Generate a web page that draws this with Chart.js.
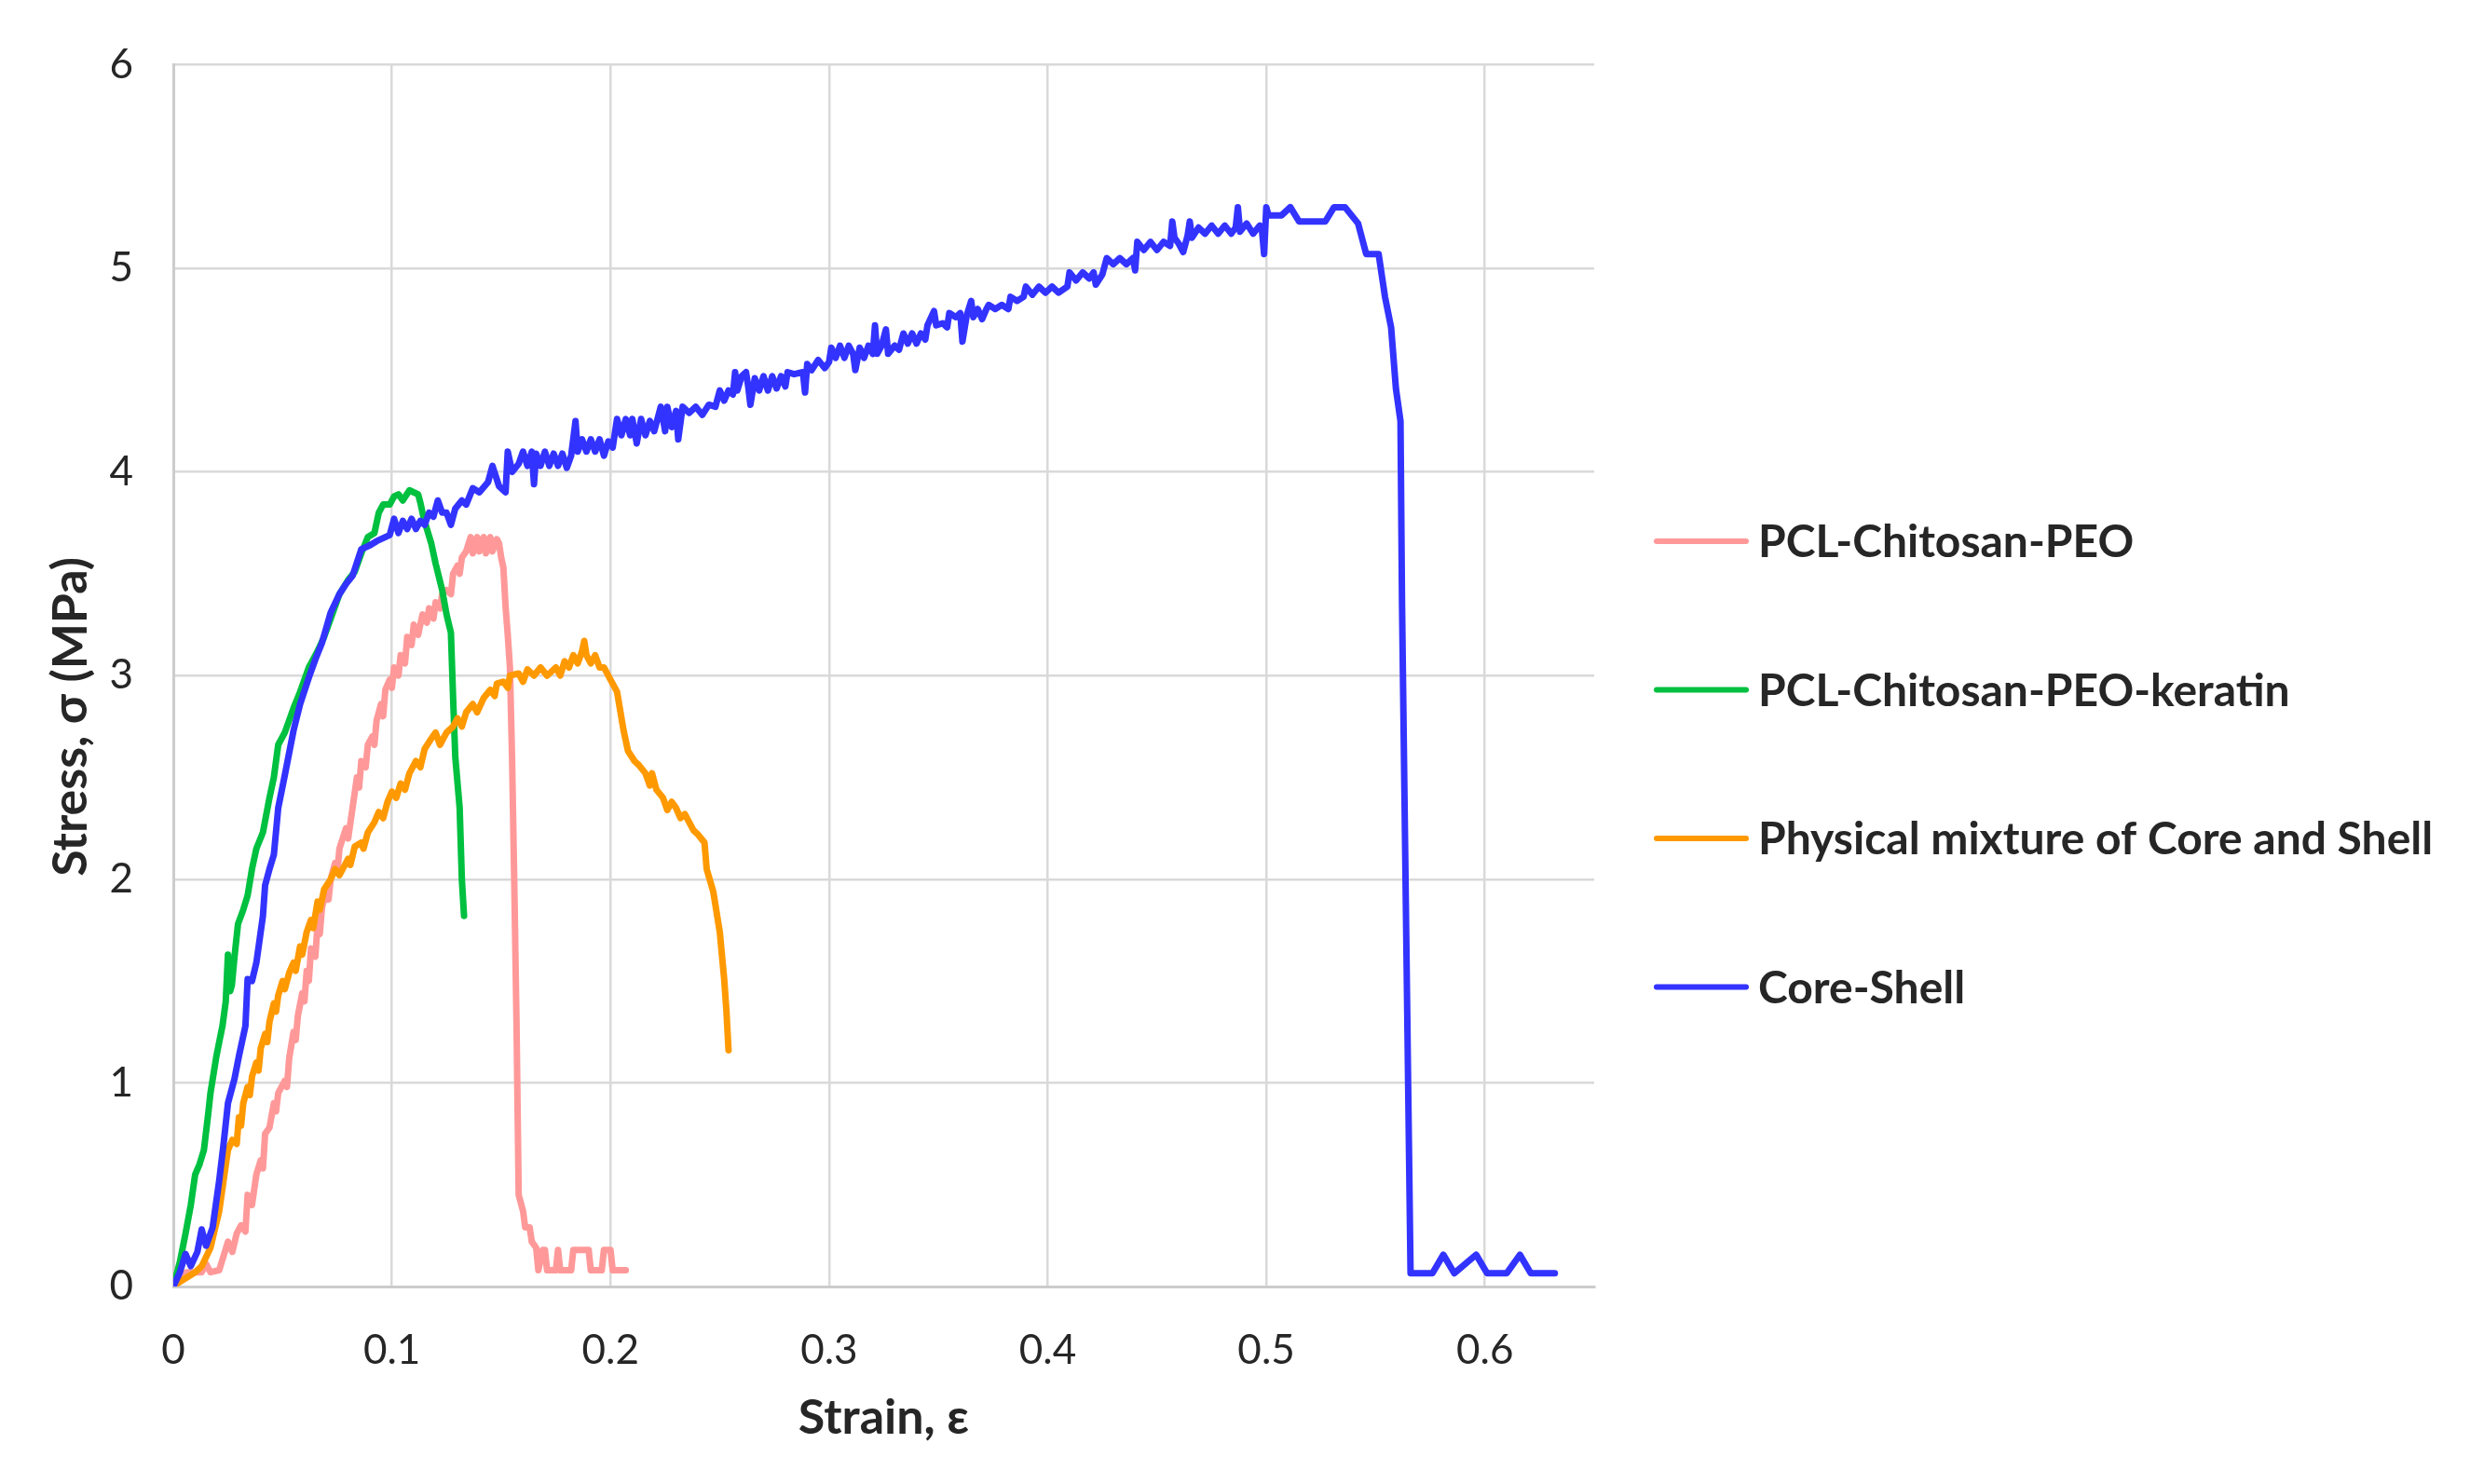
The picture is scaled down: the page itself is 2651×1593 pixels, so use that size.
<!DOCTYPE html>
<html>
<head>
<meta charset="utf-8">
<title>Stress-strain curves</title>
<script src="https://cdn.jsdelivr.net/npm/chart.js@4.4.1/dist/chart.umd.min.js"></script>
<style>
  html, body { margin: 0; padding: 0; background: #fff; }
  #wrap { width: 2651px; height: 1593px; }
</style>
</head>
<body>
<div id="wrap"><canvas id="chart" width="2651" height="1593"></canvas></div>
<script>
// axis ticks
const xTicks = [0, 0.1, 0.2, 0.3, 0.4, 0.5, 0.6];
const xTickLabels = ['0', '0.1', '0.2', '0.3', '0.4', '0.5', '0.6'];
const yTicks = [0, 1, 2, 3, 4, 5, 6];
const yTickLabels = ['0', '1', '2', '3', '4', '5', '6'];

const seriesNames = ['PCL-Chitosan-PEO', 'PCL-Chitosan-PEO-keratin', 'Physical mixture of Core and Shell', 'Core-Shell'];
const seriesColors = ['#FF9999', '#00C040', '#FF9900', '#3333FF'];

// [strain, stress (MPa)]
const pinkCurve = [
  [0, 0], [0.003, 0.04], [0.006, 0.07], [0.013, 0.07], [0.015, 0.11], [0.017, 0.07], [0.021, 0.08], [0.023, 0.15], [0.025, 0.22], [0.027, 0.17],
  [0.029, 0.26], [0.031, 0.30], [0.033, 0.27], [0.034, 0.45], [0.036, 0.40], [0.038, 0.55], [0.040, 0.62], [0.041, 0.58], [0.042, 0.75], [0.044, 0.78],
  [0.046, 0.90], [0.047, 0.86], [0.048, 0.95], [0.051, 1.01], [0.052, 0.98], [0.053, 1.12], [0.055, 1.25], [0.056, 1.21], [0.057, 1.33], [0.059, 1.44],
  [0.060, 1.40], [0.061, 1.55], [0.062, 1.50], [0.063, 1.66], [0.065, 1.62], [0.066, 1.78], [0.067, 1.73], [0.068, 1.86], [0.070, 1.95], [0.071, 1.90],
  [0.072, 2.00], [0.074, 2.08], [0.075, 2.03], [0.076, 2.15], [0.079, 2.25], [0.080, 2.20], [0.082, 2.35], [0.084, 2.50], [0.085, 2.45], [0.086, 2.58],
  [0.088, 2.55], [0.089, 2.66], [0.091, 2.70], [0.092, 2.66], [0.093, 2.78], [0.095, 2.86], [0.096, 2.80], [0.097, 2.93], [0.099, 2.98], [0.100, 2.94],
  [0.101, 3.04], [0.103, 3.00], [0.104, 3.10], [0.106, 3.06], [0.107, 3.19], [0.109, 3.15], [0.110, 3.25], [0.112, 3.20], [0.114, 3.30], [0.116, 3.26],
  [0.117, 3.33], [0.119, 3.28], [0.120, 3.36], [0.122, 3.33], [0.123, 3.40], [0.125, 3.42], [0.127, 3.40], [0.128, 3.50], [0.130, 3.54], [0.131, 3.50],
  [0.132, 3.58], [0.134, 3.61], [0.136, 3.68], [0.137, 3.60], [0.139, 3.68], [0.140, 3.61], [0.142, 3.68], [0.143, 3.60], [0.145, 3.68], [0.146, 3.61],
  [0.148, 3.67], [0.149, 3.65], [0.150, 3.58], [0.151, 3.53], [0.152, 3.34], [0.153, 3.20], [0.154, 3.04], [0.155, 2.58], [0.156, 1.97], [0.157, 1.30],
  [0.158, 0.45], [0.160, 0.37], [0.161, 0.29], [0.163, 0.29], [0.164, 0.22], [0.166, 0.19], [0.167, 0.08], [0.169, 0.18], [0.170, 0.18], [0.171, 0.08],
  [0.175, 0.08], [0.176, 0.18], [0.177, 0.08], [0.182, 0.08], [0.183, 0.18], [0.190, 0.18], [0.191, 0.08], [0.196, 0.08], [0.197, 0.18], [0.200, 0.18],
  [0.201, 0.08], [0.207, 0.08]
];

const greenCurve = [
  [0, 0], [0.003, 0.12], [0.0056, 0.26], [0.008, 0.40], [0.010, 0.55], [0.012, 0.60], [0.014, 0.67], [0.016, 0.85], [0.017, 0.95], [0.0197, 1.13],
  [0.021, 1.20], [0.0225, 1.28], [0.024, 1.40], [0.025, 1.63], [0.026, 1.45], [0.0268, 1.48], [0.028, 1.62], [0.0296, 1.78], [0.032, 1.85], [0.034, 1.92],
  [0.036, 2.05], [0.038, 2.15], [0.041, 2.23], [0.044, 2.40], [0.046, 2.50], [0.048, 2.66], [0.051, 2.72], [0.055, 2.84], [0.058, 2.92], [0.062, 3.04],
  [0.066, 3.12], [0.069, 3.19], [0.072, 3.28], [0.076, 3.40], [0.080, 3.47], [0.083, 3.51], [0.086, 3.60], [0.089, 3.68], [0.092, 3.70], [0.094, 3.80],
  [0.096, 3.84], [0.099, 3.84], [0.101, 3.88], [0.103, 3.89], [0.105, 3.86], [0.108, 3.91], [0.110, 3.90], [0.112, 3.89], [0.113, 3.85], [0.114, 3.80],
  [0.116, 3.72], [0.118, 3.65], [0.120, 3.55], [0.123, 3.42], [0.125, 3.30], [0.127, 3.21], [0.128, 2.89], [0.129, 2.60], [0.131, 2.35], [0.132, 2.00],
  [0.133, 1.82]
];

const orangeCurve = [
  [0, 0], [0.004, 0.03], [0.010, 0.07], [0.013, 0.10], [0.017, 0.19], [0.019, 0.28], [0.021, 0.37], [0.023, 0.52], [0.025, 0.67], [0.027, 0.72],
  [0.029, 0.70], [0.030, 0.83], [0.031, 0.79], [0.032, 0.90], [0.034, 0.98], [0.035, 0.94], [0.036, 1.03], [0.038, 1.10], [0.039, 1.06], [0.040, 1.17],
  [0.042, 1.24], [0.043, 1.20], [0.044, 1.30], [0.046, 1.39], [0.047, 1.35], [0.048, 1.43], [0.050, 1.50], [0.051, 1.46], [0.053, 1.54], [0.055, 1.59],
  [0.056, 1.55], [0.058, 1.67], [0.059, 1.63], [0.061, 1.74], [0.063, 1.80], [0.064, 1.76], [0.066, 1.89], [0.067, 1.85], [0.069, 1.95], [0.072, 2.00],
  [0.074, 2.05], [0.076, 2.02], [0.080, 2.10], [0.081, 2.07], [0.083, 2.16], [0.086, 2.18], [0.087, 2.15], [0.089, 2.23], [0.092, 2.28], [0.094, 2.33],
  [0.096, 2.30], [0.098, 2.38], [0.100, 2.43], [0.102, 2.40], [0.104, 2.47], [0.106, 2.44], [0.108, 2.52], [0.111, 2.58], [0.113, 2.55], [0.115, 2.64],
  [0.118, 2.69], [0.120, 2.72], [0.122, 2.66], [0.125, 2.72], [0.128, 2.75], [0.130, 2.79], [0.132, 2.75], [0.134, 2.82], [0.137, 2.86], [0.139, 2.82],
  [0.142, 2.89], [0.145, 2.93], [0.147, 2.90], [0.148, 2.96], [0.151, 2.97], [0.153, 2.94], [0.154, 3.00], [0.158, 3.01], [0.160, 2.97], [0.162, 3.03],
  [0.165, 3.00], [0.168, 3.04], [0.171, 3.00], [0.175, 3.04], [0.177, 3.00], [0.179, 3.07], [0.181, 3.04], [0.183, 3.10], [0.185, 3.06], [0.187, 3.12],
  [0.188, 3.17], [0.189, 3.10], [0.191, 3.06], [0.193, 3.10], [0.195, 3.04], [0.197, 3.04], [0.200, 2.98], [0.203, 2.92], [0.206, 2.73], [0.208, 2.63],
  [0.211, 2.58], [0.213, 2.56], [0.216, 2.52], [0.218, 2.46], [0.219, 2.52], [0.221, 2.44], [0.224, 2.40], [0.226, 2.34], [0.228, 2.38], [0.230, 2.35],
  [0.232, 2.30], [0.234, 2.32], [0.236, 2.28], [0.238, 2.24], [0.240, 2.22], [0.243, 2.18], [0.244, 2.05], [0.247, 1.94], [0.250, 1.74], [0.252, 1.51],
  [0.253, 1.36], [0.254, 1.16]
];

const blueCurve = [
  [0, 0], [0.003, 0.07], [0.0056, 0.16], [0.008, 0.10], [0.011, 0.17], [0.013, 0.28], [0.015, 0.20], [0.018, 0.29], [0.021, 0.52], [0.023, 0.70],
  [0.025, 0.90], [0.028, 1.02], [0.030, 1.13], [0.033, 1.28], [0.034, 1.51], [0.036, 1.50], [0.038, 1.59], [0.041, 1.82], [0.042, 1.97], [0.044, 2.05],
  [0.046, 2.12], [0.048, 2.35], [0.051, 2.51], [0.055, 2.73], [0.058, 2.86], [0.062, 2.99], [0.065, 3.08], [0.068, 3.16], [0.072, 3.31], [0.076, 3.40],
  [0.079, 3.45], [0.082, 3.49], [0.086, 3.62], [0.090, 3.64], [0.093, 3.66], [0.099, 3.69], [0.101, 3.77], [0.103, 3.70], [0.105, 3.76], [0.107, 3.72],
  [0.109, 3.77], [0.111, 3.72], [0.113, 3.76], [0.115, 3.74], [0.117, 3.80], [0.119, 3.78], [0.121, 3.86], [0.123, 3.80], [0.125, 3.80], [0.127, 3.74],
  [0.129, 3.82], [0.132, 3.86], [0.134, 3.84], [0.137, 3.92], [0.140, 3.90], [0.144, 3.95], [0.146, 4.03], [0.149, 3.93], [0.152, 3.90], [0.153, 4.10],
  [0.155, 4.00], [0.158, 4.04], [0.160, 4.10], [0.162, 4.03], [0.164, 4.10], [0.165, 3.94], [0.166, 4.09], [0.168, 4.03], [0.170, 4.10], [0.172, 4.03],
  [0.174, 4.09], [0.176, 4.03], [0.178, 4.09], [0.180, 4.02], [0.182, 4.08], [0.184, 4.25], [0.185, 4.10], [0.187, 4.16], [0.189, 4.10], [0.191, 4.16],
  [0.193, 4.10], [0.195, 4.16], [0.197, 4.08], [0.199, 4.15], [0.201, 4.12], [0.203, 4.26], [0.205, 4.18], [0.207, 4.26], [0.209, 4.18], [0.210, 4.26],
  [0.212, 4.14], [0.214, 4.26], [0.216, 4.18], [0.218, 4.25], [0.220, 4.20], [0.223, 4.32], [0.225, 4.20], [0.226, 4.32], [0.228, 4.22], [0.230, 4.30],
  [0.231, 4.16], [0.233, 4.32], [0.236, 4.29], [0.239, 4.32], [0.242, 4.28], [0.245, 4.33], [0.248, 4.32], [0.250, 4.40], [0.252, 4.35], [0.254, 4.40],
  [0.256, 4.38], [0.257, 4.49], [0.258, 4.40], [0.260, 4.47], [0.262, 4.49], [0.263, 4.42], [0.264, 4.33], [0.266, 4.46], [0.268, 4.40], [0.270, 4.47],
  [0.272, 4.40], [0.274, 4.47], [0.276, 4.41], [0.278, 4.47], [0.280, 4.42], [0.281, 4.49], [0.284, 4.48], [0.288, 4.49], [0.289, 4.39], [0.290, 4.53],
  [0.292, 4.50], [0.295, 4.55], [0.298, 4.51], [0.300, 4.54], [0.301, 4.61], [0.303, 4.56], [0.305, 4.62], [0.307, 4.56], [0.309, 4.62], [0.311, 4.58],
  [0.312, 4.50], [0.314, 4.61], [0.316, 4.56], [0.318, 4.62], [0.320, 4.58], [0.321, 4.72], [0.322, 4.58], [0.324, 4.62], [0.326, 4.70], [0.327, 4.58],
  [0.330, 4.62], [0.332, 4.60], [0.334, 4.68], [0.336, 4.63], [0.338, 4.68], [0.340, 4.63], [0.342, 4.68], [0.344, 4.65], [0.345, 4.72], [0.348, 4.79],
  [0.349, 4.72], [0.352, 4.73], [0.354, 4.71], [0.355, 4.78], [0.358, 4.76], [0.360, 4.78], [0.361, 4.64], [0.363, 4.77], [0.365, 4.84], [0.366, 4.76],
  [0.368, 4.80], [0.370, 4.75], [0.372, 4.80], [0.373, 4.82], [0.376, 4.80], [0.379, 4.82], [0.382, 4.80], [0.383, 4.86], [0.386, 4.84], [0.389, 4.86],
  [0.390, 4.91], [0.393, 4.87], [0.396, 4.91], [0.399, 4.88], [0.402, 4.91], [0.405, 4.88], [0.409, 4.91], [0.410, 4.98], [0.413, 4.94], [0.416, 4.98],
  [0.419, 4.95], [0.421, 4.98], [0.422, 4.92], [0.425, 4.97], [0.427, 5.05], [0.430, 5.02], [0.433, 5.05], [0.436, 5.02], [0.439, 5.05], [0.440, 4.99],
  [0.441, 5.13], [0.444, 5.09], [0.447, 5.13], [0.450, 5.09], [0.453, 5.13], [0.456, 5.11], [0.457, 5.23], [0.458, 5.15], [0.460, 5.12], [0.462, 5.08],
  [0.464, 5.16], [0.465, 5.23], [0.466, 5.15], [0.469, 5.20], [0.472, 5.17], [0.475, 5.21], [0.478, 5.17], [0.481, 5.21], [0.484, 5.17], [0.486, 5.20],
  [0.487, 5.30], [0.488, 5.18], [0.491, 5.22], [0.494, 5.17], [0.497, 5.21], [0.498, 5.19], [0.499, 5.07], [0.500, 5.30], [0.501, 5.26], [0.507, 5.26],
  [0.511, 5.30], [0.515, 5.23], [0.527, 5.23], [0.531, 5.30], [0.536, 5.30], [0.542, 5.22], [0.5457, 5.07], [0.5514, 5.07], [0.5543, 4.86], [0.5571, 4.71],
  [0.5593, 4.41], [0.5614, 4.25], [0.5621, 3.35], [0.566, 0.065], [0.576, 0.065], [0.581, 0.156], [0.586, 0.065], [0.596, 0.156], [0.601, 0.065], [0.610, 0.065],
  [0.616, 0.156], [0.621, 0.065], [0.632, 0.065]
];

const curves = [pinkCurve, greenCurve, orangeCurve, blueCurve];

const FONT = 'Lato, "Open Sans", sans-serif';
const TEXT = '#262626';

// legend at the right: a short line and the series name
const sideLegend = {
  id: 'sideLegend',
  afterDraw(chart) {
    const ctx = chart.ctx;
    ctx.save();
    ctx.font = 'bold 48px ' + FONT;
    ctx.textBaseline = 'middle';
    ctx.textAlign = 'left';
    chart.data.datasets.forEach((ds, i) => {
      const y = 581 + i * 159.5;
      ctx.strokeStyle = ds.borderColor;
      ctx.lineWidth = 6;
      ctx.lineCap = 'round';
      ctx.beginPath();
      ctx.moveTo(1778, y);
      ctx.lineTo(1874, y);
      ctx.stroke();
      ctx.fillStyle = TEXT;
      ctx.fillText(ds.label, 1887, y + 2);
    });
    ctx.restore();
  }
};

const datasets = seriesNames.map((name, i) => ({
  label: name,
  data: curves[i].map(p => ({ x: p[0], y: p[1] })),
  borderColor: seriesColors[i],
  backgroundColor: seriesColors[i],
  borderWidth: 7,
  borderJoinStyle: 'round',
  borderCapStyle: 'round',
  pointRadius: 0,
  showLine: true,
  tension: 0,
  order: 4 - i // later series drawn on top
}));

new Chart(document.getElementById('chart'), {
  type: 'scatter',
  data: { datasets: datasets },
  options: {
    responsive: false,
    devicePixelRatio: 1,
    animation: false,
    layout: { padding: { left: 0, top: 67, right: 940, bottom: 0 } },
    plugins: {
      legend: { display: false },
      tooltip: { enabled: false }
    },
    scales: {
      x: {
        type: 'linear',
        min: 0,
        max: 0.65,
        afterBuildTicks: (scale) => { scale.ticks = xTicks.map(v => ({ value: v })); },
        afterFit: (scale) => { scale.height = 212; },
        ticks: {
          padding: 42,
          color: TEXT,
          font: { family: FONT, size: 44 },
          callback: (v, i) => xTickLabels[i]
        },
        grid: { color: '#d9d9d9', lineWidth: 2.5, drawTicks: false },
        border: { color: '#cccccc', width: 3 },
        title: {
          display: true,
          text: 'Strain, ε',
          color: TEXT,
          font: { family: FONT, size: 52, weight: 'bold' },
          padding: { top: 0, bottom: 40 }
        }
      },
      y: {
        type: 'linear',
        min: 0,
        max: 6,
        afterBuildTicks: (scale) => { scale.ticks = yTicks.map(v => ({ value: v })); },
        afterFit: (scale) => { scale.width = 186; },
        ticks: {
          padding: 43,
          color: TEXT,
          font: { family: FONT, size: 44 },
          callback: (v, i) => yTickLabels[i]
        },
        grid: { color: '#d9d9d9', lineWidth: 2.5, drawTicks: false },
        border: { color: '#cccccc', width: 3 },
        title: {
          display: true,
          // trailing spaces nudge the rotated title down, as in the original
          text: 'Stress, σ (MPa)       ',
          color: TEXT,
          font: { family: FONT, size: 52, weight: 'bold' },
          padding: { top: 45, bottom: 0 }
        }
      }
    }
  },
  plugins: [sideLegend]
});
</script>
</body>
</html>
